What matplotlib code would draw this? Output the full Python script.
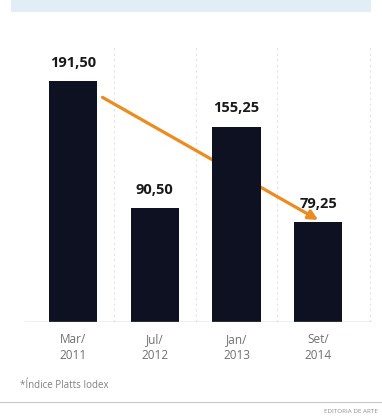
import matplotlib.pyplot as plt
from matplotlib.patches import Rectangle, FancyArrowPatch

# Dados
periodos = ['Mar/\n2011', 'Jul/\n2012', 'Jan/\n2013', 'Set/\n2014']
valores = [191.50, 90.50, 155.25, 79.25]
rotulos = ['191,50', '90,50', '155,25', '79,25']
nota = '*Índice Platts Iodex'
credito = 'EDITORIA DE ARTE'

plt.rcParams['font.family'] = ['Open Sans', 'DejaVu Sans']

fig = plt.figure(figsize=(3.82, 4.19), dpi=100)
fig.patch.set_facecolor('white')

# faixa azul do titulo (cortada no topo)
fig.patches.append(Rectangle((0.03, 0.972), 0.94, 0.028, transform=fig.transFigure,
                             facecolor='#e2eef6', edgecolor='none'))

ax = fig.add_axes([25 / 382, 97 / 419, 347 / 382, 277 / 419])
x = range(len(valores))
ax.bar(x, valores, width=0.59, color='#0e1122', zorder=3)

for i, (v, r) in enumerate(zip(valores, rotulos)):
    ax.text(i, v + 9, r, ha='center', va='bottom', fontsize=10.5,
            fontweight='bold', color='#1a1a1a')

# seta laranja
seta = FancyArrowPatch((0.33, 179.5), (3.03, 80), arrowstyle='-|>',
                       mutation_scale=14, color='#ef8a1e', lw=2.3, zorder=2)
ax.add_patch(seta)

ax.set_xlim(-0.59, 3.66)
ax.set_ylim(0, 220)
for gx in [0.5, 1.5, 2.5, 3.64]:
    ax.axvline(gx, color='#e2e2e2', lw=0.8, ls=(0, (2, 3)), zorder=1)
ax.axhline(0, color='#b0b0b0', lw=1.0, zorder=4)

for s in ax.spines.values():
    s.set_visible(False)
ax.set_yticks([])
ax.set_xticks(list(x))
ax.set_xticklabels(periodos, fontsize=8.5, color='#707070', linespacing=1.3)
ax.tick_params(axis='x', length=0, pad=8)

fig.text(20 / 382, 1 - 385 / 419, nota, fontsize=7, color='#808080',
         ha='left', va='center')
fig.add_artist(plt.Line2D([0, 1], [1 - 402 / 419] * 2, color='#c8c8c8', lw=0.8,
                          transform=fig.transFigure))
fig.text(378 / 382, 1 - 411 / 419, credito, fontsize=4.5, color='#909090',
         ha='right', va='center')

fig.savefig('out.png', dpi=100)
